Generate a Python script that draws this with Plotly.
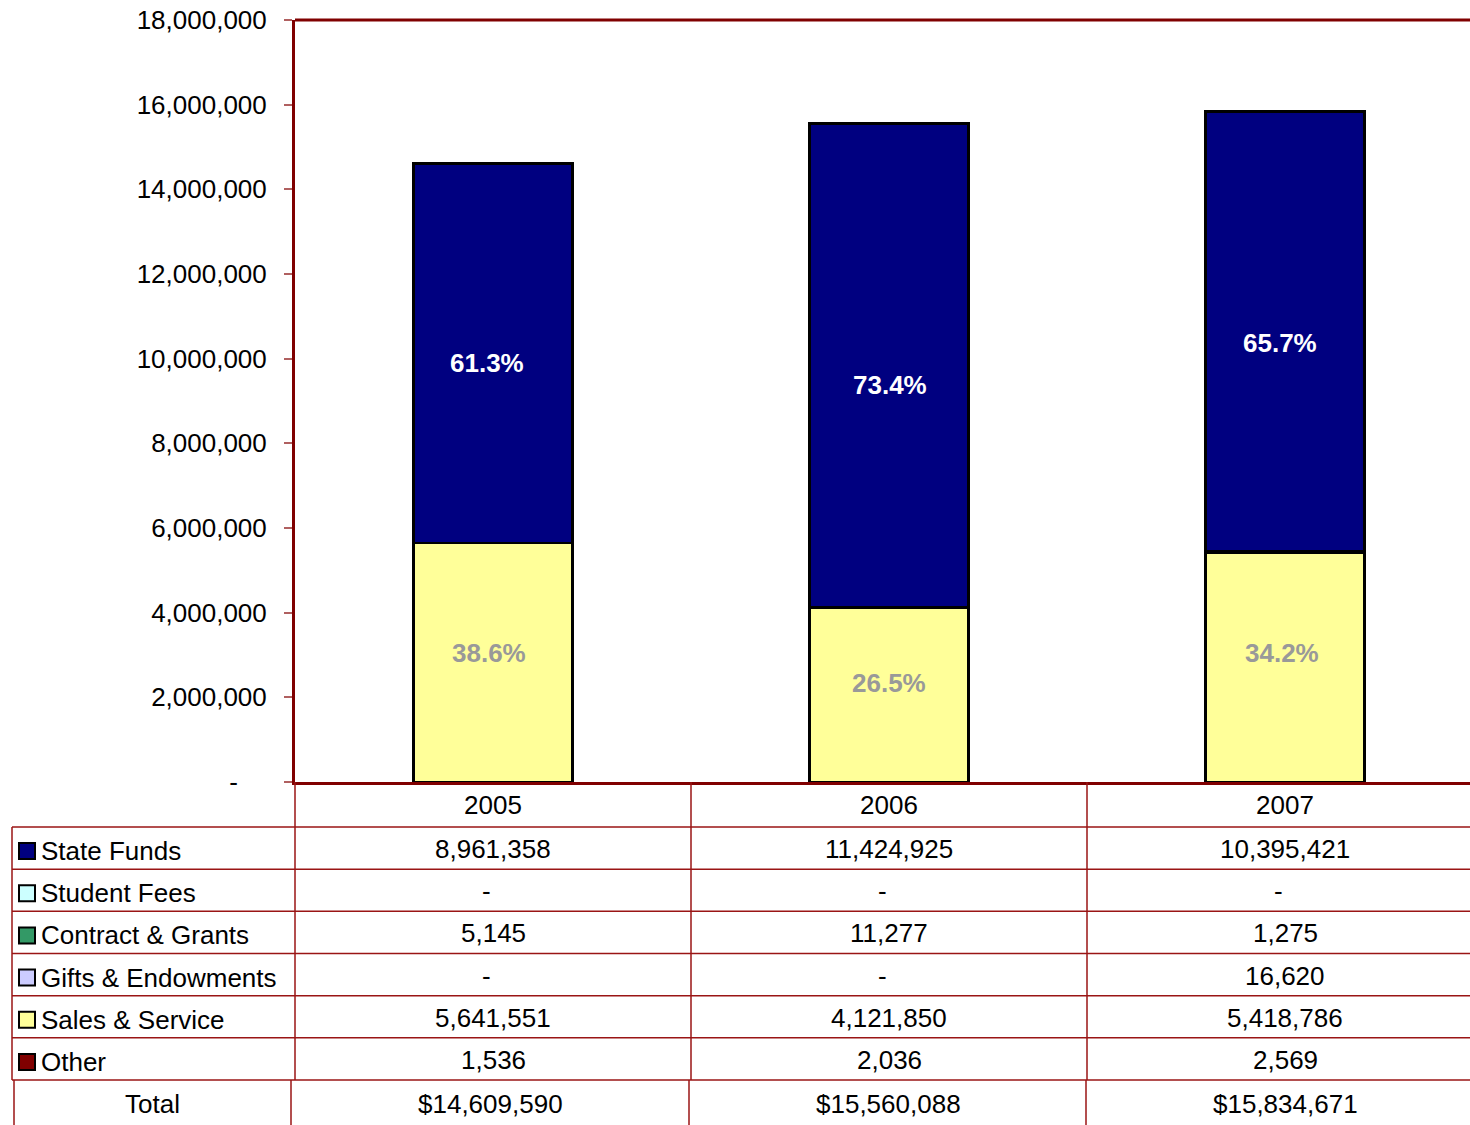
import plotly.graph_objects as go

# ---------------- data ----------------
years = ["2005", "2006", "2007"]
series_names = ["State Funds", "Student Fees", "Contract & Grants",
                "Gifts & Endowments", "Sales & Service", "Other"]
state_funds = [8961358, 11424925, 10395421]
student_fees = [0, 0, 0]
contract_grants = [5145, 11277, 1275]
gifts_endowments = [0, 0, 16620]
sales_service = [5641551, 4121850, 5418786]
other = [1536, 2036, 2569]
totals = [14609590, 15560088, 15834671]
state_pct = [61.3, 73.4, 65.7]
sales_pct = [38.6, 26.5, 34.2]
ytick_vals = [0, 2000000, 4000000, 6000000, 8000000, 10000000,
              12000000, 14000000, 16000000, 18000000]

series_values = [state_funds, student_fees, contract_grants,
                 gifts_endowments, sales_service, other]

# ---------------- styles ----------------
colors = ["#000080", "#CCFFFF", "#339966", "#CCCCFF", "#FFFF99", "#800000"]
FONT = "Liberation Sans, Arial, sans-serif"
FS = 26
RED = "#800000"
GRID = "#9A1515"
W, H = 1470, 1125
L, R, T, B = 295, 0, 20, 343
PW = W - L - R
PH = H - T - B

def px(x):
    return (x - L) / PW

def py(y):
    return (H - B - y) / PH

NBSP = "\u00a0"

def fmt(v):
    return "-" + NBSP * 2 if v == 0 else f"{v:,}"

fig = go.Figure()

# stack: bottom is last series (Other), top is State Funds
for name, vals, col in reversed(list(zip(series_names, series_values, colors))):
    fig.add_trace(go.Bar(
        x=years, y=vals, name=name, marker_color=col,
        marker_line=dict(color="black", width=2.5), showlegend=False,
        hoverinfo="x+y+name"))

annotations = []
shapes = []

# percentage labels (label offsets in pixels)
sf_dy = [-10, -20, -11]
ss_dy = [10, 12, 14]
sf_dx = [-6, 1, -5]
ss_dx = [-4, 0, -3]
for i, yr in enumerate(years):
    base_ss = other[i]
    ss_mid = base_ss + sales_service[i] / 2
    base_sf = other[i] + sales_service[i] + gifts_endowments[i] + contract_grants[i] + student_fees[i]
    sf_mid = base_sf + state_funds[i] / 2
    annotations.append(dict(
        x=i, y=sf_mid, xref="x", yref="y", showarrow=False, xshift=sf_dx[i],
        text=f"<b>{state_pct[i]:.1f}%</b>",
        font=dict(family=FONT, size=FS, color="white"), yshift=sf_dy[i]))
    annotations.append(dict(
        x=i, y=ss_mid, xref="x", yref="y", showarrow=False, xshift=ss_dx[i],
        text=f"<b>{sales_pct[i]:.1f}%</b>",
        font=dict(family=FONT, size=FS, color="#999999"), yshift=ss_dy[i]))

# ---------------- data table ----------------
col_centers = [493, 889, 1285]
total_centers = [490, 888, 1285]
row_top = 827
row_h = (1080 - 827) / 6

# header (years)
for c, yr in zip(col_centers, years):
    annotations.append(dict(x=px(c), y=py(805), xref="paper", yref="paper",
                            text=yr, showarrow=False, xanchor="center", yanchor="middle",
                            font=dict(family=FONT, size=FS, color="black")))

for r, (name, vals, col) in enumerate(zip(series_names, series_values, colors)):
    cy = row_top + row_h * (r + 0.5) + 3
    # swatch
    shapes.append(dict(type="rect", xref="paper", yref="paper",
                       x0=px(19), x1=px(35), y0=py(cy - 8), y1=py(cy + 8),
                       fillcolor=col, line=dict(color="black", width=2)))
    annotations.append(dict(x=px(39), y=py(cy), xref="paper", yref="paper",
                            text=name, showarrow=False, xanchor="left", yanchor="middle",
                            font=dict(family=FONT, size=FS, color="black")))
    for c, v in zip(col_centers, vals):
        annotations.append(dict(x=px(c), y=py(cy - 2), xref="paper", yref="paper",
                                text=fmt(v), showarrow=False, xanchor="center", yanchor="middle",
                                font=dict(family=FONT, size=FS, color="black")))

# total row
annotations.append(dict(x=px(152), y=py(1104), xref="paper", yref="paper",
                        text="Total", showarrow=False, xanchor="center", yanchor="middle",
                        font=dict(family=FONT, size=FS, color="black")))
for c, v in zip(total_centers, totals):
    annotations.append(dict(x=px(c), y=py(1104), xref="paper", yref="paper",
                            text=f"${v:,}", showarrow=False, xanchor="center", yanchor="middle",
                            font=dict(family=FONT, size=FS, color="black")))

# table grid lines
def hline(y, x0, x1, w=1.5):
    shapes.append(dict(type="line", xref="paper", yref="paper",
                       x0=px(x0), x1=px(x1), y0=py(y), y1=py(y),
                       line=dict(color=GRID, width=w)))

def vline(x, y0, y1, w=1.5):
    shapes.append(dict(type="line", xref="paper", yref="paper",
                       x0=px(x), x1=px(x), y0=py(y0), y1=py(y1),
                       line=dict(color=GRID, width=w)))

for r in range(7):
    hline(row_top + row_h * r, 12, 1470)
vline(12, row_top, 1080)
for x in [295, 691, 1087]:
    vline(x, 782, 1080)
for x in [14, 291, 689, 1086]:
    vline(x, 1080, 1125)

# plot top border
shapes.append(dict(type="line", xref="paper", yref="paper", x0=0, x1=1, y0=1, y1=1,
                   line=dict(color=RED, width=3)))

fig.update_layout(
    width=W, height=H,
    margin=dict(l=L, r=R, t=T, b=B, pad=0),
    barmode="stack", bargap=0.598,
    plot_bgcolor="white", paper_bgcolor="white",
    font=dict(family=FONT, size=FS, color="black"),
    annotations=annotations, shapes=shapes,
    xaxis=dict(type="category", showticklabels=False, showline=True, linecolor=RED,
               linewidth=3, ticks="", showgrid=False, zeroline=False,
               range=[-0.5, -0.5 + PW / 396]),
    yaxis=dict(range=[0, 18000000], tickvals=ytick_vals,
               ticktext=["-" + NBSP * 4] + [f"{v:,}" for v in ytick_vals[1:]],
               ticks="outside", ticklen=8, tickwidth=2, tickcolor="#B06060",
               showline=True, linecolor=RED, linewidth=3, showgrid=False,
               zeroline=False, tickfont=dict(family=FONT, size=FS, color="black"),
               ticklabelstandoff=12),
)

fig.write_html("out.html", config={"displayModeBar": False},
               post_script="document.body.style.margin='0';document.body.style.padding='0';")
